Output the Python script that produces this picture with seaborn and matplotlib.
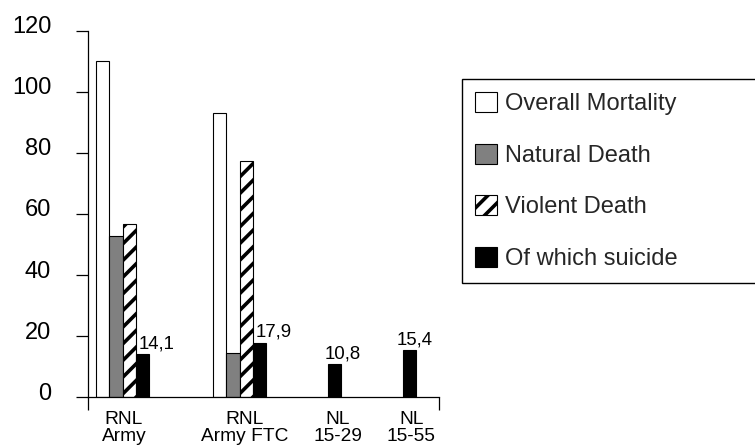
import numpy as np
import pandas as pd
import matplotlib
matplotlib.use("Agg")
import matplotlib.pyplot as plt
import matplotlib.transforms as mtransforms
import seaborn as sns

# ---------------- data ----------------
categories = ["RNL\nArmy", "RNL\nArmy FTC", "NL\n15-29", "NL\n15-55"]
series = ["Overall Mortality", "Natural Death", "Violent Death", "Of which suicide"]
overall = [110.2, 93.2, None, None]
natural = [52.8, 14.4, None, None]
violent = [56.7, 77.5, None, None]
suicide = [14.1, 17.9, 10.8, 15.4]
suicide_labels = ["14,1", "17,9", "10,8", "15,4"]
y_ticks = [0, 20, 40, 60, 80, 100, 120]

# ---------------- layout ----------------
group_pos = [0.46, 2.02, 3.02, 4.02]          # category placement (data units)
label_pos = [0.48, 2.09, 3.33, 4.31]          # category label placement
x_limits = (0.0, 4.68)
label_dx_px = [14, 14.5, 8.5, 5.5]            # data label horizontal nudges
colors = {"Overall Mortality": "white", "Natural Death": "#808080",
          "Violent Death": "white", "Of which suicide": "black"}

rows = []
for s, vals in zip(series, [overall, natural, violent, suicide]):
    for pos, v in zip(group_pos, vals):
        if v is not None:
            rows.append({"pos": pos, "value": v, "series": s})
df = pd.DataFrame(rows)

sns.set_style("ticks")
plt.rcParams["font.family"] = ["Liberation Sans", "DejaVu Sans"]
plt.rcParams["hatch.linewidth"] = 2.6
plt.rcParams["hatch.color"] = "black"

fig = plt.figure(figsize=(7.55, 4.46), dpi=100)
ax = fig.add_axes([88 / 755, (446 - 397.3) / 446, (439 - 88) / 755, 366.6 / 446])

sns.barplot(data=df, x="pos", y="value", hue="series", hue_order=series,
            palette=colors, native_scale=True, width=0.70, saturation=1,
            edgecolor="black", linewidth=0.8, errorbar=None, legend=False, ax=ax)

# hatch for violent death bars
for p in ax.containers[2].patches:
    p.set_hatch("//")

ax.set_xlim(*x_limits)
ax.set_ylim(0, 120)
ax.set_xlabel("")
ax.set_ylabel("")
sns.despine(ax=ax)
for sp in ["left", "bottom"]:
    ax.spines[sp].set_color("black")
    ax.spines[sp].set_linewidth(0.9)

# y axis
ax.set_yticks(y_ticks)
ax.set_yticklabels([str(t) for t in y_ticks])
ax.tick_params(axis="y", direction="out", length=9, width=0.9, color="black",
               pad=17.5, labelsize=17, labelcolor="black")
shift = mtransforms.ScaledTranslation(0, 6 / 100, fig.dpi_scale_trans)
for lab in ax.get_yticklabels():
    lab.set_transform(lab.get_transform() + shift)

# x axis: end ticks only, category labels as minor ticks
ax.set_xticks(list(x_limits))
ax.set_xticklabels(["", ""])
ax.tick_params(axis="x", which="major", direction="out", length=9, width=0.9, color="black")
ax.set_xticks(label_pos, minor=True)
ax.set_xticklabels(categories, minor=True)
ax.tick_params(axis="x", which="minor", length=0, pad=10, labelsize=13.8, labelcolor="black")
for lab in ax.get_xticklabels(minor=True):
    lab.set_linespacing(1.0)

# data labels for suicide bars
for p, txt, dx in zip(ax.containers[3].patches, suicide_labels, label_dx_px):
    ax.annotate(txt, (p.get_x() + p.get_width() / 2, p.get_height()),
                xytext=(dx * 0.72, 4.3), textcoords="offset points",
                ha="center", va="baseline", fontsize=13.4, color="black",
                annotation_clip=False)

# legend (frame runs past the right edge of the figure, as in the original)
leg = ax.legend(handles=list(ax.containers), labels=series,
                loc="upper left", bbox_to_anchor=(462 / 755, (446 - 79) / 446, 0.7, 0),
                bbox_transform=fig.transFigure, mode="expand", borderaxespad=0,
                fontsize=17, frameon=True, fancybox=False, framealpha=1,
                edgecolor="black", borderpad=0.55, labelspacing=1.2,
                handlelength=0.94, handleheight=0.94, handletextpad=0.35)
leg.get_frame().set_linewidth(1.0)

fig.savefig("out.png", dpi=100)
